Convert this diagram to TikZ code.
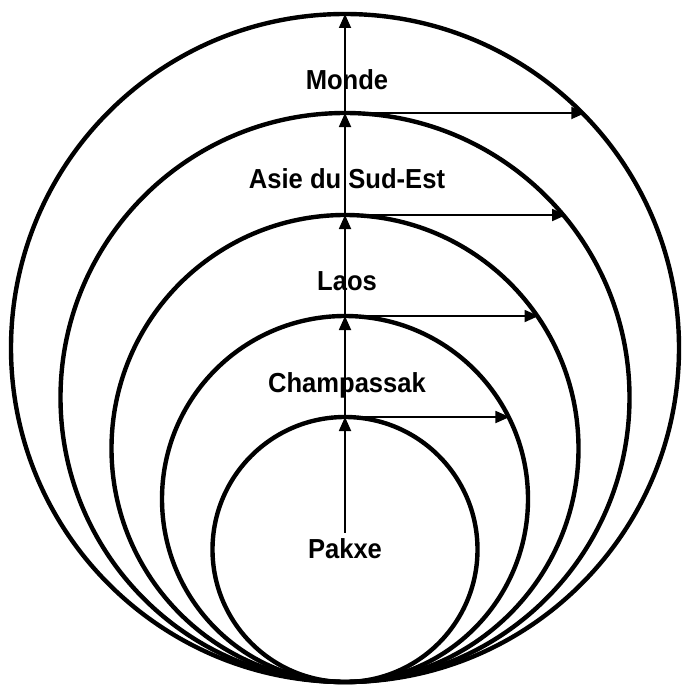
\documentclass[tikz,border=0pt]{standalone}
\usepackage{fontspec}
\setmainfont{Liberation Sans}
\newfontfamily\zonefont[FakeStretch=0.93]{Liberation Sans}
\usetikzlibrary{arrows.meta,positioning}

\begin{document}
\begin{tikzpicture}[
  x=1pt, y=-1pt,
  ring/.style={circle, draw, line width=4.4pt, inner sep=0pt, outer sep=0pt},
  zone/.style={font=\zonefont\fontsize{27.5}{32}\selectfont\bfseries, anchor=base, inner sep=0pt},
  reach/.style={-{Triangle[length=14pt,width=12pt]}, line width=1.8pt}
]
\useasboundingbox (0,0) rectangle (681,685);
% circles, all touching at the bottom
\node[ring, minimum size=668pt] (monde) at (345,348) {};
\node[ring, minimum size=569pt] (asie) at (345,397.5) {};
\node[ring, minimum size=467pt] (laos) at (345,448.5) {};
\node[ring, minimum size=366pt] (champassak) at (345,499) {};
\node[ring, minimum size=265pt] (pakxe) at (345,549.5) {};
% names
\node[zone] (lmonde) at (347,89) {Monde};
\node[zone] (lasie) at (347,188) {Asie du Sud-Est};
\node[zone] (llaos) at (347,290) {Laos};
\node[zone] (lchampassak) at (347,392) {Champassak};
\node[zone] (lpakxe) at (345,558) {Pakxe};
% upward arrows
\draw[reach] ([yshift=5pt]lpakxe.north) -- (pakxe.north);
\draw[reach] (pakxe.north) -- (champassak.north);
\draw[reach] (champassak.north) -- (laos.north);
\draw[reach] (laos.north) -- (asie.north);
\draw[reach] (asie.north) -- (monde.north);
% sideways arrows
\draw[reach] (pakxe.north) -- (pakxe.north -| champassak.26.6);
\draw[reach] (champassak.north) -- (champassak.north -| laos.34.6);
\draw[reach] (laos.north) -- (laos.north -| asie.39.9);
\draw[reach] (asie.north) -- (asie.north -| monde.44.7);
\end{tikzpicture}
\end{document}
